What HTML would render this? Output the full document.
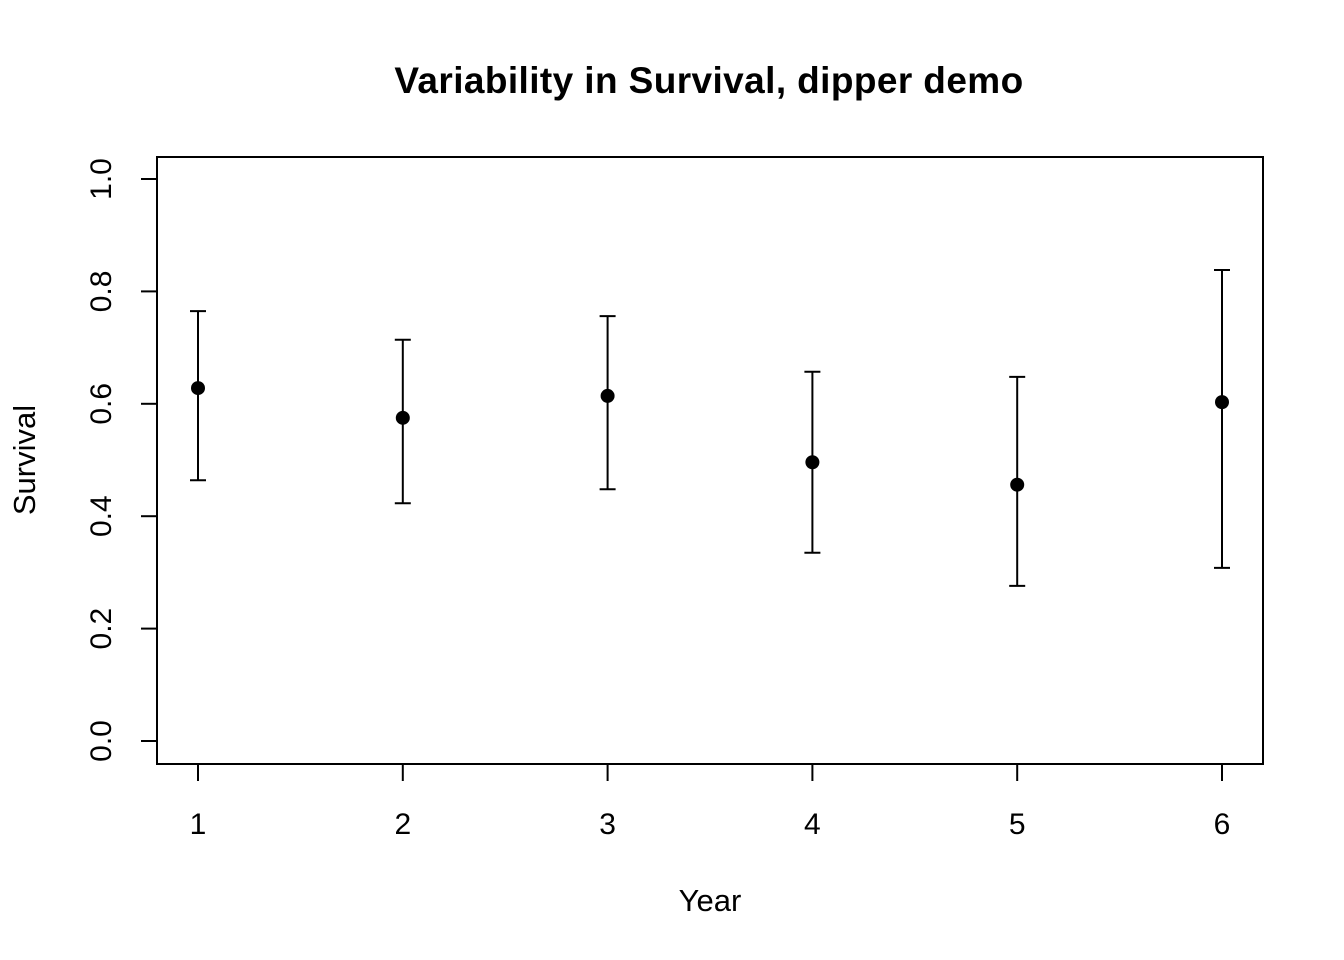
<!DOCTYPE html>
<html><head><meta charset="utf-8"><style>body{margin:0;background:#fff}svg{display:block}text{font-family:"Liberation Sans",Arial,sans-serif;fill:#000}</style></head>
<body>
<svg id="chart" width="1344" height="960" xmlns="http://www.w3.org/2000/svg">
<text x="709" y="93" text-anchor="middle" font-size="37" font-weight="bold" letter-spacing="0.4">Variability in Survival, dipper demo</text>
<rect x="157" y="157" width="1106" height="607" fill="none" stroke="#000" stroke-width="2"/>
<text x="710" y="911" text-anchor="middle" font-size="31">Year</text>
<text transform="translate(35,460) rotate(-90)" text-anchor="middle" font-size="31">Survival</text>
<g id="g"></g>
</svg>
<script>
const years=[1,2,3,4,5,6];
const estimates=[0.628,0.575,0.614,0.496,0.456,0.603];
const lower=[0.464,0.423,0.448,0.335,0.276,0.308];
const upper=[0.765,0.714,0.756,0.657,0.648,0.838];
const yTicks=[0,0.2,0.4,0.6,0.8,1.0];
const yTickLabels=["0.0","0.2","0.4","0.6","0.8","1.0"];
const xs=v=>198+(v-1)*204.8;
const ys=v=>741-v*562;
const g=document.getElementById('g');
const NS='http://www.w3.org/2000/svg';
function mk(t,a){const e=document.createElementNS(NS,t);for(const k in a)e.setAttribute(k,a[k]);g.appendChild(e);return e;}
yTicks.forEach((v,i)=>{
 const t=mk('line',{x1:141,x2:157,y1:ys(v),y2:ys(v),stroke:'#000','stroke-width':2});
 
 
 const l=mk('text',{transform:`translate(111,${ys(v)}) rotate(-90)`,'text-anchor':'middle','font-size':30});
 l.textContent=yTickLabels[i];
 
 
});
years.forEach((yr,i)=>{
 const x=xs(yr);
 const t=mk('line',{x1:x,x2:x,y1:764,y2:781,stroke:'#000','stroke-width':2});
 
 
 const l=mk('text',{x:x,y:834,'text-anchor':'middle','font-size':30});
 l.textContent=yr;
 
 
 const e=mk('path',{d:`M${x},${ys(upper[i])}V${ys(lower[i])}M${x-8},${ys(upper[i])}H${x+8}M${x-8},${ys(lower[i])}H${x+8}`,stroke:'#000','stroke-width':2,fill:'none'});
 
 
 const c=mk('circle',{cx:x,cy:ys(estimates[i]),r:7,fill:'#000'});
 
 
});
</script>
</body></html>
